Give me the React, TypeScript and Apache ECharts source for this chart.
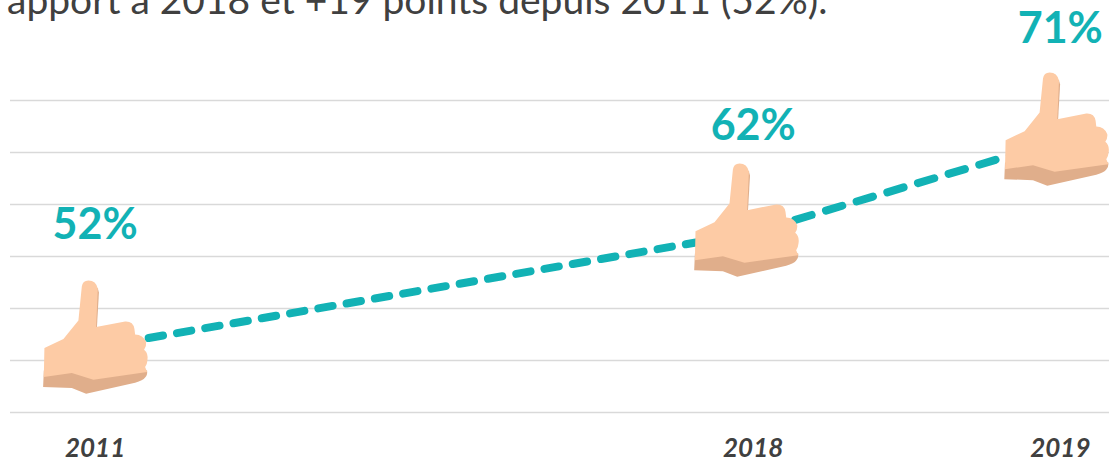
import React, { useEffect, useRef } from "react";
import * as echarts from "echarts";

const years = ["2011", "2018", "2019"];
const slots = [0, 15, 22];
const values = [51.9, 62.4, 70.8];
const gridValues = [46, 50.75, 55.5, 60.25, 65, 69.75, 74.5];
const titleText = "apport à 2018 et +19 points depuis 2011 (52%).";

const handOffsets = [[-52, -67], [-59, -69], [-56, -68]];
const labelOffsets = [[0, -125], [0, -109], [0, -114]];

// Hand outline in its own box (about 104 x 113 px)
const handThumbSide = "M50 3 L54.7 8 L55.8 12 L53.8 47 L46 47 Z";
const handShadow =
  "M0.7 90 L0 106.7 L28.7 107.7 L43 113.3 L92 102.3 Q100 100 102 97 Q104.5 95 104 90 L60 85 Z";
const handMain =
  "M1.3 67.7 L20.3 58.7 L35.3 40 L38.7 6 Q39.5 0 45.3 0 Q53 0 54.7 8.3 L53 46.7 L82 41 Q90 40.5 91.3 48.3 L92 54 Q100 54 103 61.7 Q103.5 66 101 69.3 Q105.5 73 104.3 80 Q104 84 102 86.7 L104 91.7 L50.3 99.3 L28.7 92.7 L0.7 96.7 Z";

export default function App() {
  const ref = useRef<HTMLDivElement>(null);
  useEffect(() => {
    document.body.style.margin = "0";
    const chart = echarts.init(ref.current!, null, { renderer: "svg" });
    const points = slots.map((s, i) => [s, values[i]]);
    const teal = "#12B2B5";
    chart.setOption({
      animation: false,
      backgroundColor: "#ffffff",
      grid: { left: 10, right: 0, top: 100, bottom: 46, containLabel: false, outerBoundsMode: "none" },
      xAxis: {
        type: "value",
        min: -1.94,
        max: 23.11,
        axisLine: { show: false },
        axisTick: { show: false, customValues: slots },
        splitLine: { show: false },
        axisLabel: {
          customValues: slots,
          formatter: (v: number) => years[slots.indexOf(v)] ?? "",
          margin: 24,
          lineHeight: 22,
          color: "#404040",
          fontFamily: "Lato",
          fontWeight: "bold",
          fontStyle: "italic",
          fontSize: 26,
          showMinLabel: true,
          showMaxLabel: true,
        },
      },
      yAxis: {
        type: "value",
        min: gridValues[0],
        max: gridValues[gridValues.length - 1],
        axisLine: { show: false },
        axisTick: { show: false, customValues: gridValues },
        axisLabel: { show: false },
        splitLine: { show: true, lineStyle: { color: "#D9D9D9", width: 1.4 } },
      },
      graphic: [
        {
          type: "text",
          x: 7,
          y: -21,
          silent: true,
          style: {
            text: titleText,
            fill: "#404040",
            font: "39px Lato",
          },
        },
      ],
      series: [
        {
          type: "line",
          data: points.slice(0, 2),
          symbol: "none",
          lineStyle: {
            color: teal,
            width: 8,
            type: [14.5, 14.2],
            cap: "round",
            dashOffset: 2.7,
          },
          z: 2,
        },
        {
          type: "line",
          data: points.slice(1),
          symbol: "none",
          lineStyle: {
            color: teal,
            width: 8,
            type: [17, 15],
            cap: "round",
            dashOffset: 20,
          },
          z: 2,
        },
        {
          type: "scatter",
          data: points.map((p, i) => ({
            value: p,
            label: { offset: labelOffsets[i] },
          })),
          symbolSize: 0,
          itemStyle: { color: teal, opacity: 1 },
          label: {
            show: true,
            position: "inside",
            formatter: (p: any) => Math.round(p.value[1]) + "%",
            color: teal,
            opacity: 1,
            fontFamily: "Lato",
            fontWeight: "bold",
            fontSize: 43,
          },
          z: 4,
        },
        {
          type: "custom",
          data: points,
          encode: { x: 0, y: 1 },
          clip: false,
          z: 3,
          renderItem: (params: any, api: any) => {
            const c = api.coord([api.value(0), api.value(1)]);
            const o = handOffsets[params.dataIndex];
            return {
              type: "group",
              x: c[0] + o[0],
              y: c[1] + o[1],
              children: [
                { type: "path", shape: { pathData: handThumbSide }, style: { fill: "#E0AE8B" } },
                { type: "path", shape: { pathData: handShadow }, style: { fill: "#E0AE8B" } },
                { type: "path", shape: { pathData: handMain }, style: { fill: "#FDCBA5" } },
              ],
            };
          },
        },
      ],
    });
    return () => chart.dispose();
  }, []);
  return <div ref={ref} style={{ width: 1109, height: 458 }} />;
}
